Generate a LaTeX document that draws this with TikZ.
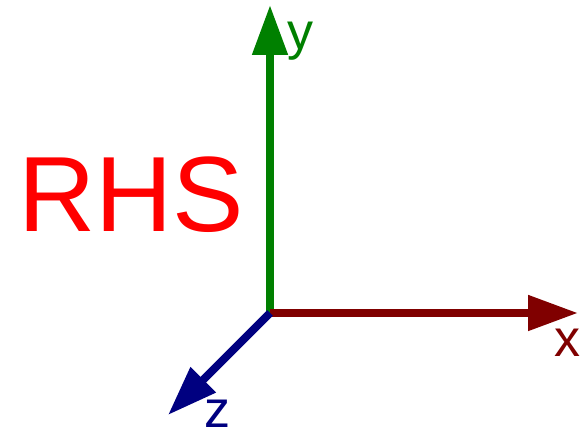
\documentclass[tikz,border=0pt]{standalone}
\usepackage{fontspec}
\setmainfont{Liberation Sans}
\usetikzlibrary{arrows.meta}
\definecolor{axgreen}{RGB}{0,128,0}
\definecolor{axred}{RGB}{128,0,0}
\definecolor{axblue}{RGB}{0,0,128}
\definecolor{rhsred}{RGB}{255,0,0}
\begin{document}
\begin{tikzpicture}[x=1pt,y=1pt,
  axis/.style={line width=8pt,-{Triangle[length=50pt,width=34pt]}},
  lab/.style={inner sep=0pt,anchor=base west,font=\fontsize{52}{52}\selectfont}]
\useasboundingbox (0,0) rectangle (583,430);
\coordinate (O) at (270,117);
\coordinate (ytip) at (270,425);
\coordinate (xtip) at (578,117);
\coordinate (ztip) at (168,15);
\draw[axis,axgreen] (O) -- (ytip);
\draw[axis,axred] (O) -- (xtip);
\draw[axis,axblue] (O) -- (ztip);
\node[lab,text=axgreen] (ylab) at (287,380) {y};
\node[lab,text=axred] (xlab) at (554,73) {x};
\node[lab,text=axblue] (zlab) at (204,2) {z};
\node[inner sep=0pt,anchor=base west,text=rhsred,font=\fontsize{107}{107}\selectfont] (rhs) at (18,198) {RHS};
\end{tikzpicture}
\end{document}
